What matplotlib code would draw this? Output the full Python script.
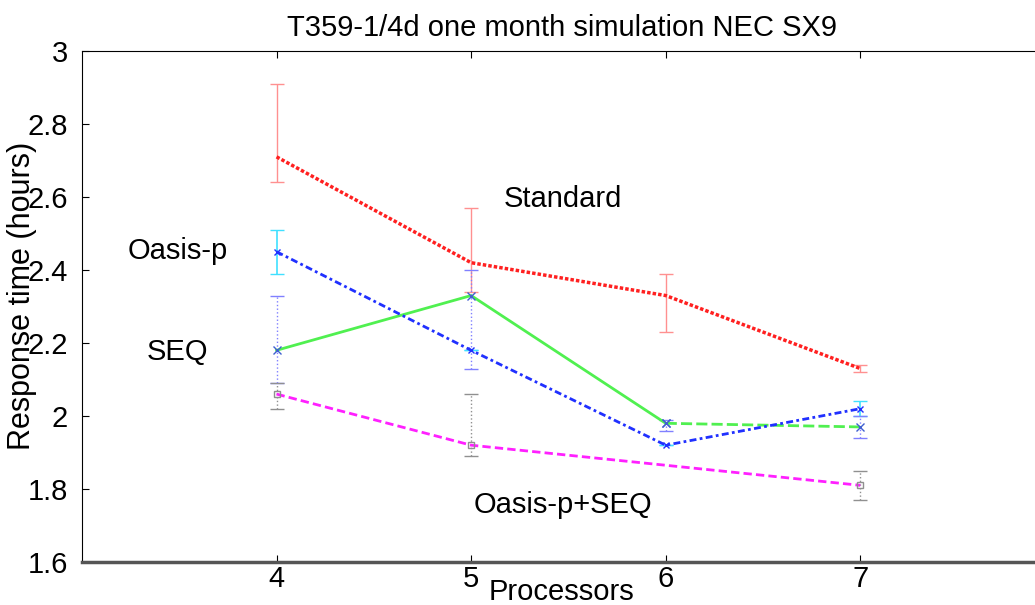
import matplotlib
matplotlib.use("Agg")
import matplotlib.pyplot as plt
import numpy as np

plt.rcParams['font.family'] = ['Liberation Sans', 'DejaVu Sans']

# response time (hours) vs processors
procs = [4, 5, 6, 7]
standard = [2.71, 2.42, 2.33, 2.13]
standard_lo = [2.64, 2.34, 2.23, 2.12]
standard_hi = [2.91, 2.57, 2.39, 2.14]

oasis_p = [2.45, 2.18, 1.92, 2.02]
oasis_p_lo = [2.39, 2.18, 1.92, 2.00]
oasis_p_hi = [2.51, 2.18, 1.92, 2.04]

seq = [2.18, 2.33, 1.98, 1.97]
seq_lo = [2.09, 2.13, 1.96, 1.94]
seq_hi = [2.33, 2.40, 1.99, 2.00]

both_x = [4, 5, 7]
both = [2.06, 1.92, 1.81]
both_lo = [2.02, 1.89, 1.77]
both_hi = [2.09, 2.06, 1.85]


def errs(y, lo, hi):
    y = np.array(y)
    return [y - np.array(lo), np.array(hi) - y]


fig = plt.figure(figsize=(10.35, 6.05), dpi=100)
ax = fig.add_axes([0.0792, 0.0711, 0.940, 0.8446])

# error bars first, lines over them
ax.errorbar(procs, standard, yerr=errs(standard, standard_lo, standard_hi),
            fmt='none', ecolor='#ff9090', elinewidth=1, capsize=5)
ax.errorbar(procs, oasis_p, yerr=errs(oasis_p, oasis_p_lo, oasis_p_hi),
            fmt='none', ecolor='#40e0ff', elinewidth=1.2, capsize=5)
eb = ax.errorbar(procs, seq, yerr=errs(seq, seq_lo, seq_hi),
                 fmt='none', ecolor='#8080ff', elinewidth=1, capsize=5)
eb[2][0].set_linestyle(':')
eb = ax.errorbar(both_x, both, yerr=errs(both, both_lo, both_hi),
                 fmt='none', ecolor='#909090', elinewidth=1, capsize=5)
eb[2][0].set_linestyle(':')

ax.plot(procs, standard, color='#ff2020', ls=(0, (1, 0.6)), lw=2.5)
ax.plot(procs[:3], seq[:3], color='#50f050', ls='-', lw=2, marker='x', ms=6, mec='#4060d0')
ax.plot(procs[2:], seq[2:], color='#50f050', ls=(0, (4, 1.5)), lw=2, marker='x', ms=6, mec='#4060d0')
ax.plot(procs, oasis_p, color='#2030ff', ls=(0, (2.5, 1.2, 1, 1.2)), lw=2, marker='x', ms=4)
ax.plot(both_x, both, color='#ff20ff', ls=(0, (3, 1.5)), lw=2, marker='s', ms=5,
        mfc='none', mec='#909090')

fs = 21
ax.text(5.472, 2.595, 'Standard', fontsize=fs, ha='center', va='center')
ax.text(3.493, 2.452, 'Oasis-p', fontsize=fs, ha='center', va='center')
ax.text(3.493, 2.175, 'SEQ', fontsize=fs, ha='center', va='center')
ax.text(5.472, 1.756, 'Oasis-p+SEQ', fontsize=fs, ha='center', va='center')

ax.set_xlim(3, 8)
ax.set_ylim(1.6, 3)
ax.set_xticks([4, 5, 6, 7])
ax.set_yticks([1.6, 1.8, 2, 2.2, 2.4, 2.6, 2.8, 3])
ax.set_yticklabels(['1.6', '1.8', '2', '2.2', '2.4', '2.6', '2.8', '3'])
ax.tick_params(direction='in', length=5, labelsize=fs, top=True)
ax.tick_params(axis='x', pad=2)
ax.tick_params(axis='y', pad=10)
ax.spines['right'].set_visible(False)
ax.spines['bottom'].set_linewidth(2.5)
ax.spines['bottom'].set_color('#555555')

ax.set_title('T359-1/4d one month simulation NEC SX9', fontsize=fs,
             x=0.493, y=1.045, va='center', pad=0)
ax.set_xlabel('Processors', fontsize=fs)
ax.xaxis.set_label_coords(0.493, -0.031)
ax.xaxis.label.set_va('top')
ax.set_ylabel('Response time (hours)', fontsize=22)
ax.yaxis.set_label_coords(-0.0617, 0.52)
ax.yaxis.label.set_va('center')

fig.savefig('out.png', dpi=100)
